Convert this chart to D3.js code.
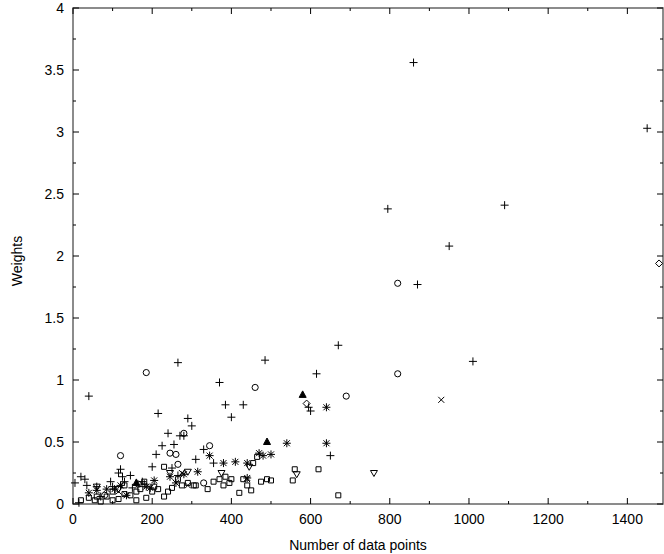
<html>
<head>
<meta charset="UTF-8">
<style>*{margin:0;padding:0;} body{background:#fff;} text{font-family:"Liberation Sans",Arial,sans-serif;}</style>
</head>
<body>
<svg id="chart" width="664" height="554"></svg>
<script src="https://cdn.jsdelivr.net/npm/d3@7"></script>
<script>
var width = 664, height = 554;
var margin = {left: 73, right: 1, top: 8, bottom: 50};

// data: [number of data points, weight]
var plusPts = [[40,0.87],[215,0.73],[265,1.14],[370,0.98],[385,0.80],[400,0.70],[430,0.80],[485,1.16],[600,0.75],[615,1.05],[670,1.28],[795,2.38],[860,3.56],[870,1.77],[950,2.08],[1010,1.15],[1090,2.41],[1450,3.03],[300,0.63],[290,0.69],[240,0.57],[225,0.47],[255,0.48],[270,0.55],[280,0.55],[210,0.40],[200,0.30],[650,0.39],[595,0.78],[310,0.36],[330,0.44],[355,0.33],[120,0.28],[115,0.25],[125,0.22],[20,0.22],[30,0.20],[35,0.15],[60,0.14],[95,0.18],[100,0.14],[150,0.13],[145,0.23],[130,0.18],[5,0.17],[70,0.06],[15,0.01],[250,0.29],[265,0.23],[175,0.18],[180,0.16]];
var circlePts = [[185,1.06],[820,1.78],[820,1.05],[460,0.94],[690,0.87],[345,0.47],[280,0.57],[245,0.41],[260,0.40],[265,0.32],[120,0.39],[165,0.16],[330,0.17],[80,0.07]];
var squarePts = [[20,0.03],[40,0.05],[55,0.03],[70,0.02],[85,0.06],[100,0.03],[115,0.04],[130,0.08],[145,0.07],[160,0.03],[185,0.05],[200,0.10],[205,0.14],[215,0.12],[230,0.06],[240,0.10],[250,0.13],[265,0.20],[275,0.15],[290,0.17],[305,0.15],[310,0.15],[340,0.12],[355,0.18],[370,0.20],[385,0.22],[400,0.20],[380,0.15],[395,0.17],[420,0.09],[430,0.20],[440,0.15],[455,0.33],[465,0.38],[490,0.20],[475,0.18],[500,0.19],[560,0.28],[555,0.19],[620,0.28],[670,0.07],[170,0.12],[180,0.18],[100,0.10],[130,0.15],[60,0.06],[450,0.11],[230,0.30],[160,0.10]];
var starPts = [[60,0.11],[85,0.12],[105,0.12],[120,0.15],[135,0.07],[185,0.14],[205,0.19],[245,0.22],[280,0.24],[315,0.26],[345,0.39],[380,0.33],[440,0.33],[470,0.41],[480,0.39],[500,0.40],[540,0.49],[640,0.78],[640,0.49],[260,0.17],[195,0.13],[40,0.09],[410,0.34],[440,0.21]];
var triUpPts = [[160,0.17],[490,0.50],[580,0.88]];
var triDownPts = [[60,0.14],[115,0.12],[245,0.25],[290,0.26],[375,0.25],[445,0.30],[565,0.24],[760,0.25]];
var crossPts = [[115,0.10],[290,0.15],[275,0.25],[930,0.84],[440,0.20]];
var diamondPts = [[1480,1.94],[590,0.81]];

var xTicks = [0,200,400,600,800,1000,1200,1400];
var yTicks = [0,0.5,1,1.5,2,2.5,3,3.5,4];

var svg = d3.select("#chart");
var x = d3.scaleLinear().domain([0,1490]).range([margin.left, width-margin.right]);
var y = d3.scaleLinear().domain([0,4]).range([height-margin.bottom, margin.top]);

var g = svg.append("g");
// frame
g.append("rect").attr("x",x(0)).attr("y",y(4)).attr("width",x(1490)-x(0)).attr("height",y(0)-y(4))
  .attr("fill","none").attr("stroke","#666").attr("stroke-width",1.5);

// ticks (inward, all sides)
d3.range(0,1491,100).forEach(function(v){
  var len = v%200===0 ? 6 : 3;
  g.append("line").attr("x1",x(v)).attr("x2",x(v)).attr("y1",y(0)).attr("y2",y(0)-len).attr("stroke","#000");
  g.append("line").attr("x1",x(v)).attr("x2",x(v)).attr("y1",y(4)).attr("y2",y(4)+len).attr("stroke","#000");
});
d3.range(0,4.01,0.25).forEach(function(v){
  var len = (v*2)%1===0 ? 6 : 3;
  g.append("line").attr("y1",y(v)).attr("y2",y(v)).attr("x1",x(0)).attr("x2",x(0)+len).attr("stroke","#000");
  g.append("line").attr("y1",y(v)).attr("y2",y(v)).attr("x1",x(1490)).attr("x2",x(1490)-len).attr("stroke","#000");
});
g.selectAll(".xl").data(xTicks).enter().append("text").attr("x",function(d){return x(d);}).attr("y",y(0)+20)
  .attr("text-anchor","middle").attr("font-size",14).text(function(d){return d;});
g.selectAll(".yl").data(yTicks).enter().append("text").attr("x",x(0)-9).attr("y",function(d){return y(d)+5;})
  .attr("text-anchor","end").attr("font-size",14).text(function(d){return d;});
svg.append("text").attr("x",(x(0)+x(1490))/2 - 10).attr("y",height-4).attr("text-anchor","middle").attr("font-size",14).text("Number of data points");
svg.append("text").attr("transform","translate(22,"+(y(2)+5)+") rotate(-90)").attr("text-anchor","middle").attr("font-size",14).text("Weights");

function draw(data, path, fill){
  g.selectAll(null).data(data).enter().append("path")
    .attr("transform",function(d){return "translate("+x(d[0])+","+y(d[1])+")";})
    .attr("d",path).attr("fill",fill).attr("stroke","#000").attr("stroke-width",1);
}
draw(plusPts, "M-4,0H4M0,-4V4", "none");
draw(crossPts, "M-3,-3L3,3M-3,3L3,-3", "none");
draw(circlePts, d3.symbol(d3.symbolCircle,30)(), "none");
draw(squarePts, "M-2.5,-2.5H2.5V2.5H-2.5Z", "none");
draw(starPts, "M-4,0H4M0,-4V4M-3,-3L3,3M-3,3L3,-3", "none");
draw(triUpPts, "M0,-4L3.5,2.5H-3.5Z", "#000");
draw(triDownPts, "M0,3.5L3.5,-2.5H-3.5Z", "none");
draw(diamondPts, "M0,-3.5L3.5,0L0,3.5L-3.5,0Z", "none");
</script>
</body>
</html>
